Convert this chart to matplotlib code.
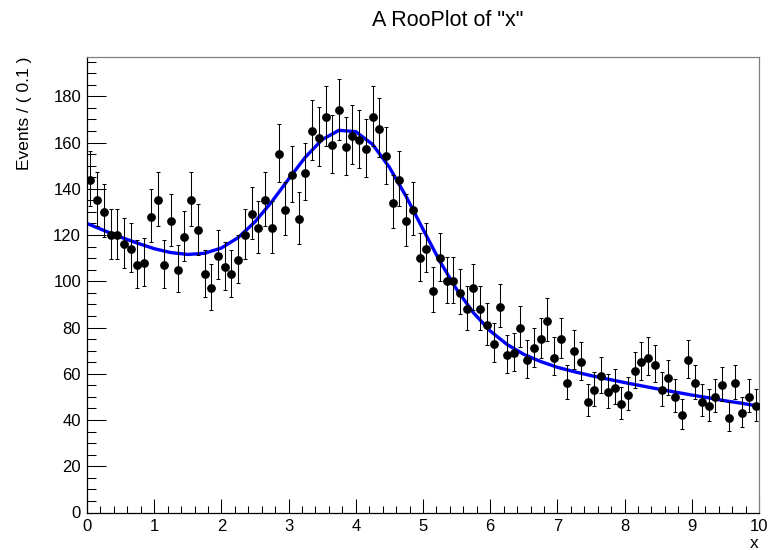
import numpy as np
import matplotlib
matplotlib.use("Agg")
import matplotlib.pyplot as plt
from matplotlib.ticker import MultipleLocator

plt.rcParams['font.family'] = ['Liberation Sans', 'DejaVu Sans']

# ---- data ----
bin_edges = np.linspace(0.0, 10.0, 101)
counts = [144, 135, 130, 120, 120, 116, 114, 107, 108, 128,
          135, 107, 126, 105, 119, 135, 122, 103, 97, 111,
          106, 103, 109, 120, 129, 123, 135, 123, 155, 131,
          146, 127, 147, 165, 162, 171, 159, 174, 158, 163,
          161, 157, 171, 166, 154, 134, 144, 126, 131, 110,
          114, 96, 110, 100, 100, 95, 88, 97, 88, 81,
          73, 89, 68, 69, 80, 66, 71, 75, 83, 67,
          75, 56, 70, 65, 48, 53, 59, 52, 54, 47,
          51, 61, 65, 67, 64, 53, 58, 50, 42, 66,
          56, 48, 46, 50, 55, 41, 56, 43, 50, 46]

# fitted curve
curve_x = [0.0, 0.25, 0.5, 0.75, 1.0, 1.25, 1.5, 1.75, 2.0, 2.25,
           2.5, 2.75, 3.0, 3.25, 3.5, 3.75, 4.0, 4.25, 4.5, 4.75,
           5.0, 5.25, 5.5, 5.75, 6.0, 6.25, 6.5, 6.75, 7.0, 7.25,
           7.5, 7.75, 8.0, 8.25, 8.5, 8.75, 9.0, 9.25, 9.5, 9.75, 10.0]
curve_y = [125.0, 122.0, 119.1, 116.5, 114.1, 112.4, 111.6, 112.1, 114.4, 118.9,
           125.7, 134.4, 144.2, 153.7, 161.3, 165.3, 164.7, 159.2, 149.3, 136.6,
           122.5, 108.7, 96.5, 86.4, 78.5, 72.7, 68.4, 65.3, 62.8, 60.9,
           59.2, 57.7, 56.2, 54.8, 53.4, 52.1, 50.8, 49.6, 48.3, 47.2, 46.0]

y_ticks = [0, 20, 40, 60, 80, 100, 120, 140, 160, 180]
x_ticks = [0, 1, 2, 3, 4, 5, 6, 7, 8, 9, 10]

# ---- figure ----
W, H = 769, 550
fig = plt.figure(figsize=(W / 100, H / 100), dpi=100)
left, right, top, bottom = 87, 759, 57, 512.5
ax = fig.add_axes([left / W, 1 - bottom / H, (right - left) / W, (bottom - top) / H])

centers = 0.5 * (bin_edges[:-1] + bin_edges[1:])
n = np.array(counts, dtype=float)
err_lo = np.sqrt(n + 0.25) - 0.5
err_hi = np.sqrt(n + 0.25) + 0.5

ax.plot(curve_x, curve_y, color='#0000ff', lw=2.4, zorder=2, solid_capstyle='butt')
ax.errorbar(centers, n, yerr=[err_lo, err_hi], fmt='o', color='black',
            ms=5.3, elinewidth=0.75, capsize=1.6, capthick=0.75, zorder=3)

ax.set_xlim(0, 10)
ax.set_ylim(0, 197)
ax.set_xticks(x_ticks)
ax.set_yticks(y_ticks)
ax.xaxis.set_minor_locator(MultipleLocator(0.2))
ax.yaxis.set_minor_locator(MultipleLocator(5))

ax.tick_params(axis='both', which='both', direction='in', top=False, right=False,
               width=0.75, color='black', labelsize=12)
ax.tick_params(axis='y', which='major', length=13.7, pad=4.3)
ax.tick_params(axis='y', which='minor', length=6.5)
ax.tick_params(axis='x', which='major', length=9.9, pad=4.5)
ax.tick_params(axis='x', which='minor', length=4.8)

for s in ['left', 'bottom']:
    ax.spines[s].set_color('black')
    ax.spines[s].set_linewidth(0.9)
for s in ['top', 'right']:
    ax.spines[s].set_color('#808080')
    ax.spines[s].set_linewidth(0.9)

fig.text(448 / W, 1 - 21 / H, 'A RooPlot of "x"', ha='center', va='center', fontsize=15.5)
fig.text(25 / W, 1 - 57 / H, 'Events / ( 0.1 )', rotation=90, ha='center', va='top', fontsize=12.5)
fig.text(759 / W, 1 - 543 / H, 'x', ha='right', va='center', fontsize=12.5)

fig.savefig('out.png', dpi=100)
